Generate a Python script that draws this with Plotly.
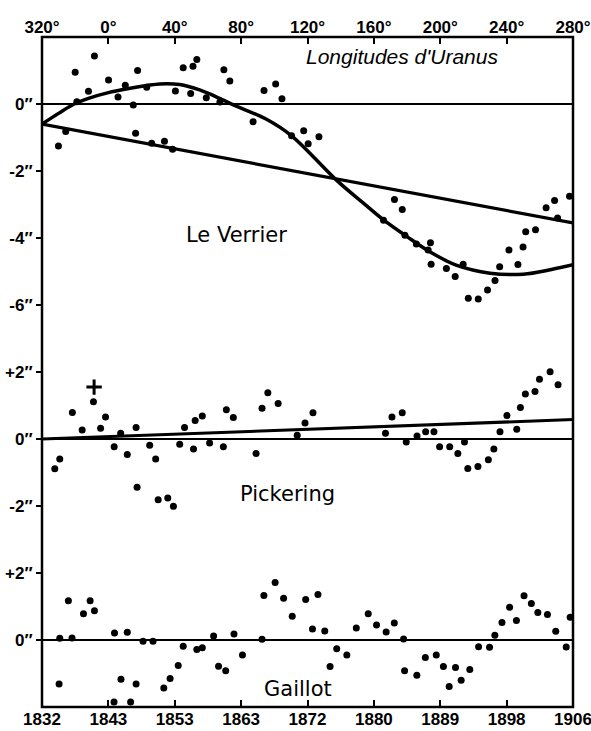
import plotly.graph_objects as go

# ---------------- data (longitude in degrees, continuous 320..640 ; residuals in arcsec) ----------------
lon_ticks = [320, 360, 400, 440, 480, 520, 560, 600, 640]
lon_labels = ["320°", "0°", "40°", "80°", "120°", "160°", "200°", "240°", "280°"]
year_labels = ["1832", "1843", "1853", "1863", "1872", "1880", "1889", "1898", "1906"]

# Le Verrier residuals
lv_lon = [329.9, 334.3, 340.0, 341.0, 348.0, 351.6, 360.1, 365.8, 370.2, 375.0, 376.4, 377.6, 383.1,
          386.1, 393.8, 398.7, 400.4, 405.1, 409.6, 411.0, 413.3, 419.0, 427.2, 429.6, 433.2, 447.2,
          453.8, 460.8, 464.6, 470.4, 477.7, 480.4, 486.9, 525.8, 532.4, 537.1, 538.7, 545.6, 554.1,
          552.7, 554.5, 563.7, 569.0, 573.8, 576.9, 582.9, 588.5, 593.0, 595.8, 601.4, 606.8, 609.9,
          611.5, 617.4, 623.8, 628.9, 630.7, 637.9]
lv_res = [-1.25, -0.82, 0.95, 0.07, 0.38, 1.43, 0.72, 0.21, 0.56, -0.03, -0.87, 1.00, 0.50,
          -1.17, -1.11, -1.35, 0.39, 1.08, 0.31, 1.13, 1.33, 0.19, 0.06, 1.02, 0.69, -0.53,
          0.40, 0.60, 0.16, -0.95, -0.80, -1.19, -0.98, -3.47, -2.85, -3.15, -3.92, -4.18, -4.14,
          -4.36, -4.78, -4.91, -5.15, -4.78, -5.80, -5.82, -5.55, -5.27, -4.86, -4.36, -4.79, -4.27,
          -3.81, -3.75, -3.10, -2.88, -3.40, -2.75]
# Le Verrier theoretical curve
lv_curve_lon = [320, 330, 339.4, 348, 360, 370.6, 383, 391, 403, 415, 427, 436, 455, 470.4,
                497.6, 513.7, 525.8, 540, 554, 570, 590, 610, 627, 640]
lv_curve_res = [-0.60, -0.28, 0.0, 0.17, 0.34, 0.45, 0.55, 0.60, 0.58, 0.42, 0.17, -0.04, -0.45,
                -0.95, -2.28, -2.96, -3.46, -3.96, -4.42, -4.82, -5.05, -5.08, -4.94, -4.80]
lv_line_lon = [320, 640]
lv_line_res = [-0.60, -3.55]

# Pickering residuals
pk_lon = [327.7, 330.7, 338.3, 344.2, 351.0, 355.3, 358.3, 363.5, 367.4, 371.4, 376.7, 377.3,
          384.9, 388.5, 390.0, 395.8, 399.2, 403.0, 405.9, 411.3, 412.3, 416.6, 421.0, 429.3, 431.1,
          435.3, 449.0, 452.6, 456.1, 462.3, 473.8, 478.5, 483.3, 527.0, 530.9, 537.1, 539.5, 546.0,
          551.2, 556.2, 559.6, 565.7, 570.6, 574.6, 576.6, 582.7, 589.0, 592.3, 596.0, 600.2, 606.1,
          608.3, 611.3, 617.1, 619.8, 626.2, 631.0]
pk_res = [-0.89, -0.60, 0.79, 0.27, 1.11, 0.32, 0.66, -0.23, 0.17, -0.46, 0.34, -1.44,
          -0.19, -0.60, -1.81, -1.76, -2.01, -0.16, 0.34, -0.30, 0.55, 0.69, -0.12, -0.23, 0.87,
          0.64, -0.43, 0.92, 1.38, 1.06, 0.11, 0.48, 0.78, 0.17, 0.66, 0.78, -0.09, 0.09,
          0.22, 0.22, -0.23, -0.23, -0.43, -0.09, -0.88, -0.82, -0.62, -0.30, 0.22, 0.70, 0.29,
          0.94, 1.34, 1.42, 1.78, 2.01, 1.62]
pk_cross_lon = [351.4]
pk_cross_res = [1.55]
pk_line_lon = [320, 640]
pk_line_res = [0.0, 0.58]

# Gaillot residuals
ga_lon = [330.3, 330.7, 335.9, 338.1, 345.0, 349.0, 351.6, 363.4, 363.7, 367.6, 371.4, 373.4,
          376.7, 380.9, 386.9, 393.4, 397.2, 402.1, 405.1, 413.3, 416.6, 423.4, 426.4, 430.7, 435.7,
          440.8, 452.6, 453.7, 460.5, 465.6, 470.8, 478.9, 486.3, 483.0, 490.4, 493.6, 497.6, 503.7,
          509.4, 516.6, 521.6, 527.4, 532.3, 537.9, 538.5, 545.9, 551.0, 557.6, 561.9, 565.4, 569.2,
          572.6, 577.8, 583.1, 589.7, 592.9, 597.2, 601.8, 605.9, 610.5, 614.9, 618.8, 624.6, 629.6,
          635.9, 638.3]
ga_res = [-1.31, 0.05, 1.17, 0.06, 0.78, 1.17, 0.87, -1.85, 0.21, -1.17, 0.23, -1.85,
          -1.31, -0.04, -0.04, -1.43, -1.15, -0.76, -0.19, -0.28, -0.23, 0.12, -0.78, -0.92, 0.18,
          -0.45, 0.02, 1.33, 1.72, 1.25, 0.71, 1.21, 1.36, 0.33, 0.27, -0.79, -0.26, -0.45,
          0.36, 0.78, 0.45, 0.24, 0.51, 0.03, -0.92, -1.05, -0.52, -0.45, -0.79, -1.39, -0.82,
          -1.20, -0.88, -0.20, -0.22, 0.14, 0.52, 0.98, 0.58, 1.32, 1.09, 0.82, 0.76, 0.26,
          -0.21, 0.68]

# ---------------- figure ----------------
fig = go.Figure()
dot = dict(color="black", size=7)

fig.add_trace(go.Scatter(x=lv_curve_lon, y=lv_curve_res, mode="lines", line=dict(color="black", width=3.5, shape="spline"),
                         xaxis="x", yaxis="y", hoverinfo="skip"))
fig.add_trace(go.Scatter(x=lv_line_lon, y=lv_line_res, mode="lines", line=dict(color="black", width=3.2),
                         xaxis="x", yaxis="y", hoverinfo="skip"))
fig.add_trace(go.Scatter(x=lv_lon, y=lv_res, mode="markers", marker=dot, xaxis="x", yaxis="y"))

fig.add_trace(go.Scatter(x=pk_line_lon, y=pk_line_res, mode="lines", line=dict(color="black", width=3),
                         xaxis="x2", yaxis="y2", hoverinfo="skip"))
fig.add_trace(go.Scatter(x=pk_lon, y=pk_res, mode="markers", marker=dot, xaxis="x2", yaxis="y2"))
fig.add_trace(go.Scatter(x=pk_cross_lon, y=pk_cross_res, mode="markers",
                         marker=dict(color="black", size=11, symbol="cross-thin", line=dict(color="black", width=3)),
                         xaxis="x2", yaxis="y2"))

fig.add_trace(go.Scatter(x=ga_lon, y=ga_res, mode="markers", marker=dot, xaxis="x3", yaxis="y3"))

tickfont = dict(family="Liberation Sans Narrow, Arial Narrow, sans-serif", size=17, color="black", weight=700)

common_x = dict(range=[320, 640], showgrid=False, zeroline=False, showline=False, automargin=False,
                ticklabeloverflow="allow")
common_y = dict(showgrid=False, showline=False, zeroline=True, zerolinecolor="black", zerolinewidth=2,
                ticks="outside", ticklen=5, tickwidth=2, tickcolor="black", tickfont=tickfont, automargin=False)

fig.update_layout(
    width=591, height=731,
    margin=dict(l=42, r=18, t=37, b=24, autoexpand=False),
    paper_bgcolor="white", plot_bgcolor="white",
    showlegend=False,
    xaxis=dict(**common_x, domain=[0, 1], anchor="y", side="top", tickvals=lon_ticks, ticktext=lon_labels,
               ticks="inside", ticklen=7, tickwidth=2, tickcolor="black", tickfont=tickfont),
    xaxis2=dict(**common_x, domain=[0, 1], anchor="y2", matches="x", showticklabels=False, ticks=""),
    xaxis3=dict(**common_x, domain=[0, 1], anchor="y3", matches="x", side="bottom", tickvals=lon_ticks,
                ticktext=year_labels, ticks="inside", ticklen=7, tickwidth=2, tickcolor="black", tickfont=tickfont),
    yaxis=dict(**common_y, domain=[0.525, 1], range=[-7.5, 2], tickvals=[0, -2, -4, -6],
               ticktext=["0″", "-2″", "-4″", "-6″"]),
    yaxis2=dict(**common_y, domain=[0.225, 0.525], range=[-3.5, 2.5], tickvals=[2, 0, -2],
                ticktext=["+2″", "0″", "-2″"]),
    yaxis3=dict(**common_y, domain=[0, 0.225], range=[-2, 2.5], tickvals=[2, 0],
                ticktext=["+2″", "0″"]),
    shapes=[dict(type="rect", xref="paper", yref="paper", x0=0, x1=1, y0=0, y1=1,
                 line=dict(color="black", width=2.5), layer="above")],
    annotations=[
        dict(text="Longitudes d'Uranus", x=537, y=1.43, xref="x", yref="y", showarrow=False,
             font=dict(family="Liberation Sans", size=21, color="black", style="italic")),
        dict(text="Le Verrier", x=437, y=-3.9, xref="x", yref="y", showarrow=False,
             font=dict(family="DejaVu Sans", size=21, color="black")),
        dict(text="Pickering", x=468, y=-1.64, xref="x2", yref="y2", showarrow=False,
             font=dict(family="DejaVu Sans", size=21, color="black")),
        dict(text="Gaillot", x=474, y=-1.46, xref="x3", yref="y3", showarrow=False,
             font=dict(family="DejaVu Sans", size=21, color="black")),
    ],
)

fig.write_html("out.html")
